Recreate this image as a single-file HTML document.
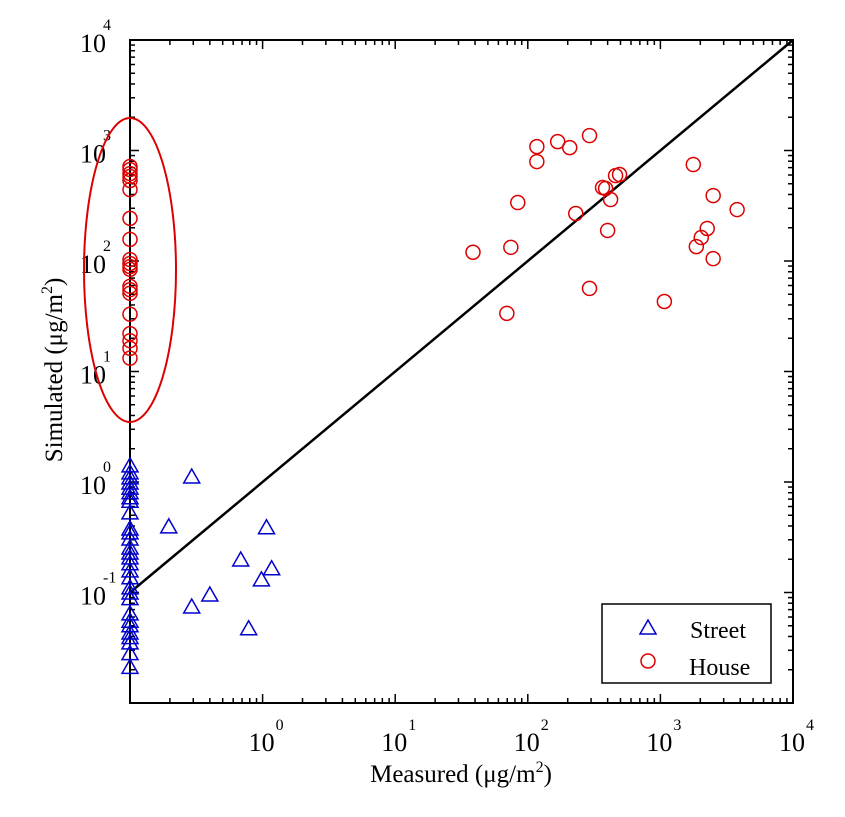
<!DOCTYPE html>
<html><head><meta charset="utf-8"><style>
body{margin:0;background:#fff}
svg text{font-family:"Liberation Serif",serif;fill:#000}
</style></head><body>
<svg id="chart" width="845" height="812" viewBox="0 0 845 812" xmlns="http://www.w3.org/2000/svg"></svg>
<script>
const xTickExps=[0,1,2,3,4];
const yTickExps=[-1,0,1,2,3,4];
const houseX=[38.6,74.5,69.5,84,117,117,168,207,292,230,292,400,366,386,421,459,492,1770,2500,3790,2255,2033,1866,2500,1071];
const houseY=[120,133,33.6,338,1084,794,1203,1062,1365,269,56.5,189,462,453,360,593,606,746,391,292,197,163,135,105,43];
const houseLeftY=[716,672,618,581,535,443,243,157,103,95,89,84,59,55,51,33,22,19,16.2,13.2];
const streetX=[0.292,0.196,1.07,0.684,1.17,0.98,0.40,0.292,0.785];
const streetY=[1.11,0.393,0.385,0.197,0.164,0.130,0.095,0.074,0.047];
const streetLeftY=[1.40,1.21,1.09,0.98,0.88,0.80,0.72,0.67,0.525,0.376,0.346,0.305,0.253,0.228,0.206,0.182,0.157,0.136,0.110,0.099,0.088,0.064,0.055,0.050,0.043,0.039,0.035,0.028,0.021];
const L=130,R=793,T=40,B=703,XMIN=-1,XMAX=4,YMIN=-2,YMAX=4;
const sx=v=>L+(Math.log10(v)-XMIN)/(XMAX-XMIN)*(R-L);
const sy=v=>B-(Math.log10(v)-YMIN)/(YMAX-YMIN)*(B-T);
const svg=document.getElementById('chart');
const NS='http://www.w3.org/2000/svg';
function mk(tag,attrs,parent){const e=document.createElementNS(NS,tag);for(const k in attrs)e.setAttribute(k,attrs[k]);(parent||svg).appendChild(e);return e;}
// frame
const frame=mk('rect',{x:L,y:T,width:R-L,height:B-T,fill:'none',stroke:'#000','stroke-width':2});


// ticks
const tg=mk('g',{stroke:'#000','stroke-width':1.5});


for(let e=XMIN;e<XMAX;e++)for(let m=1;m<10;m++){const x=sx(m*Math.pow(10,e));const len=m===1?9:5;
 mk('line',{x1:x,y1:B,x2:x,y2:B-len},tg);mk('line',{x1:x,y1:T,x2:x,y2:T+len},tg);}
for(let e=YMIN;e<YMAX;e++)for(let m=1;m<10;m++){const y=sy(m*Math.pow(10,e));const len=m===1?9:5;
 mk('line',{x1:L,y1:y,x2:L+len,y2:y},tg);mk('line',{x1:R,y1:y,x2:R-len,y2:y},tg);}
// tick labels
xTickExps.forEach(e=>{const x=sx(Math.pow(10,e));
 const t=mk('text',{x:x-14,y:B+48,'font-size':26});t.textContent='10';
 
 
 const s=mk('text',{x:x+13,y:B+27,'font-size':16});s.textContent=String(e);
 
 });
yTickExps.forEach(e=>{const y=sy(Math.pow(10,e));
 const t=mk('text',{x:L-50,y:y+12,'font-size':26});t.textContent='10';
 
 
 const s=mk('text',{x:L-27,y:y-10,'font-size':16});s.textContent=String(e);
 
 });
// 1:1 line
const ln=mk('line',{x1:sx(0.1),y1:sy(0.1),x2:sx(10000),y2:sy(10000),stroke:'#000','stroke-width':2.5});


// markers
function tri(x,y,p){const m=mk('polygon',{points:`${x},${y-8} ${x-8},${y+6} ${x+8},${y+6}`,fill:'none',stroke:'#0000cc','stroke-width':1.5},p);
 
 }
function circ(x,y,p){const m=mk('circle',{cx:x,cy:y,r:7,fill:'none',stroke:'#dd0000','stroke-width':1.5},p);
 
 }
const sg=mk('g',{});


streetX.forEach((v,i)=>tri(sx(v),sy(streetY[i]),sg));
streetLeftY.forEach(v=>tri(L,sy(v),sg));
const hg=mk('g',{});


houseX.forEach((v,i)=>circ(sx(v),sy(houseY[i]),hg));
houseLeftY.forEach(v=>circ(L,sy(v),hg));
// ellipse
const el=mk('ellipse',{cx:L,cy:270,rx:46,ry:152,fill:'none',stroke:'#dd0000','stroke-width':2});


// legend
const lg=mk('g',{});


mk('rect',{x:602,y:604,width:169,height:79,fill:'#fff',stroke:'#000','stroke-width':1.5},lg);
tri(648,628,lg);circ(648,661,lg);
const l1=mk('text',{x:690,y:638,'font-size':24},lg);l1.textContent='Street';


const l2=mk('text',{x:689,y:675,'font-size':24},lg);l2.textContent='House';


// axis titles
const xt=mk('text',{x:461,y:782,'font-size':25,'text-anchor':'middle'});
xt.innerHTML='Measured (<tspan>μ</tspan>g/m<tspan dy="-10" font-size="16">2</tspan><tspan dy="10">)</tspan>';


const yt=mk('text',{x:0,y:0,'font-size':25,'text-anchor':'middle',transform:'translate(62,370) rotate(-90)'});
yt.innerHTML='Simulated (μg/m<tspan dy="-10" font-size="16">2</tspan><tspan dy="10">)</tspan>';


</script>
</body></html>
